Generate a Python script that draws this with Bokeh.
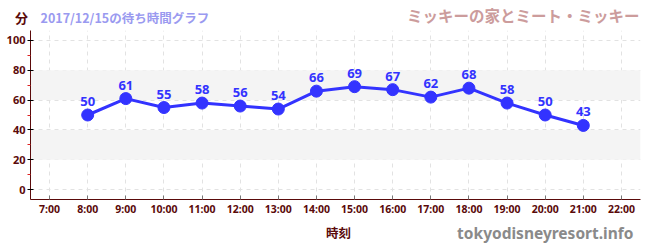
from bokeh.plotting import figure
from bokeh.layouts import column
from bokeh.models import (Range1d, FixedTicker, BoxAnnotation, ColumnDataSource,
                          LabelSet, CustomJSTickFormatter)
from bokeh.core.properties import value
from bokeh.embed import file_html
from bokeh.resources import INLINE

hours = [8, 9, 10, 11, 12, 13, 14, 15, 16, 17, 18, 19, 20, 21]
waits = [50, 61, 55, 58, 56, 54, 66, 69, 67, 62, 68, 58, 50, 43]
x_ticks = list(range(7, 23))
y_ticks = [0, 20, 40, 60, 80, 100]
title_left = "2017/12/15の待ち時間グラフ"
title_right = "ミッキーの家とミート・ミッキー"
y_unit = "分"
x_label = "時刻"
credit = "tokyodisneyresort.info"

AXIS = "#5a0a0a"
BLUE = "#3333ff"
NUM = "Noto Sans"
CJK = "Noto Sans CJK JP"
W = 650


def strip(height):
    f = figure(width=W, height=height, output_backend="svg", toolbar_location=None,
               x_range=Range1d(0, W), y_range=Range1d(height, 0),
               x_axis_location=None, y_axis_location=None, min_border=0)
    f.outline_line_color = None
    f.grid.visible = False
    try:
        f.frame_align = False
    except Exception:
        pass
    return f


def txt(f, x, y, text, color, size, align="left", font=CJK):
    f.text(x=[x], y=[y], text=[text], text_color=color, text_font_size=size,
           text_font_style="bold", text_font=value(font), text_align=align,
           text_baseline="middle")


header = strip(30)
txt(header, 21, 16.5, y_unit, AXIS, "13px", align="center")
txt(header, 40, 17, title_left, "#9a9af0", "12.5px")
txt(header, 639, 14, title_right, "#cc9c9c", "15.5px", align="right")

p = figure(width=W, height=188, output_backend="svg", toolbar_location=None,
           x_range=Range1d(6.5, 22.5), y_range=Range1d(-6.67, 106.67),
           min_border_left=30, min_border_right=10, min_border_top=0, min_border_bottom=18)
p.outline_line_color = None
try:
    p.frame_align = False
except Exception:
    pass

for lo in (20, 60):
    p.add_layout(BoxAnnotation(bottom=lo, top=lo + 20, fill_color="#f4f4f4", fill_alpha=1,
                               line_color=None, level="underlay"))

src = ColumnDataSource(dict(x=hours, y=waits, t=[str(v) for v in waits]))
p.line("x", "y", source=src, line_color=BLUE, line_width=3)
p.scatter("x", "y", source=src, size=12, fill_color=BLUE, line_color=BLUE)
p.add_layout(LabelSet(x="x", y="y", text="t", source=src, y_offset=9, text_align="center",
                      text_color=BLUE, text_font=value(NUM), text_font_size="13px",
                      text_font_style="bold", text_baseline="alphabetic"))

xa = p.xaxis[0]
xa.ticker = FixedTicker(ticks=x_ticks)
xa.formatter = CustomJSTickFormatter(code="return tick + ':00';")
xa.axis_line_color = AXIS
xa.major_tick_in = 4
xa.major_tick_out = 0
xa.major_tick_line_color = "#777777"
xa.minor_tick_line_color = None
xa.major_label_text_color = AXIS
xa.major_label_text_font = NUM
xa.major_label_text_font_style = "bold"
xa.major_label_text_font_size = "10.5px"
xa.major_label_standoff = 2

ya = p.yaxis[0]
ya.ticker = FixedTicker(ticks=y_ticks, minor_ticks=[10, 30, 50, 70, 90])
ya.axis_line_color = AXIS
ya.major_tick_in = 3
ya.major_tick_out = 3
ya.major_tick_line_color = "black"
ya.minor_tick_in = 0
ya.minor_tick_out = 3
ya.minor_tick_line_color = "#dd2222"
ya.major_label_text_color = AXIS
ya.major_label_text_font = NUM
ya.major_label_text_font_style = "bold"
ya.major_label_text_font_size = "11px"
ya.major_label_standoff = 2

p.xgrid.ticker = FixedTicker(ticks=x_ticks)
p.ygrid.ticker = FixedTicker(ticks=y_ticks)
for g in (p.xgrid, p.ygrid):
    g.grid_line_color = "#e2e2e2"
    g.grid_line_dash = "4 4"
    g.grid_line_width = 1

footer = strip(32)
txt(footer, 338, 14, x_label, AXIS, "12.5px", align="center")
txt(footer, 633, 14, credit, "#8a8a8a", "15.5px", align="right", font=NUM)

layout = column(header, p, footer, spacing=0)
open("out.html", "w").write(file_html(layout, INLINE))
